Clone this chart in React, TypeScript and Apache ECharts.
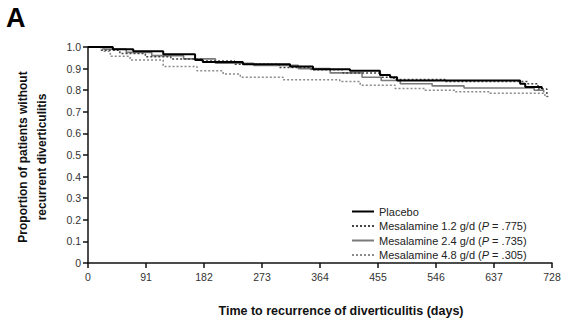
import React, { useEffect, useRef } from "react";
import * as echarts from "echarts";

const xTicks = [0, 91, 182, 273, 364, 455, 546, 637, 728];
const yTicks = [0, 0.1, 0.2, 0.3, 0.4, 0.5, 0.6, 0.7, 0.8, 0.9, 1.0];

const seriesNames = [
  "Placebo",
  "Mesalamine 1.2 g/d (P = .775)",
  "Mesalamine 2.4 g/d (P = .735)",
  "Mesalamine 4.8 g/d (P = .305)",
];

const placeboDays = [0, 39, 71, 118, 168, 180, 243, 317, 353, 411, 458, 474, 485, 520, 678, 686, 712];
const placeboVals = [1.0, 0.99, 0.98, 0.967, 0.94, 0.93, 0.92, 0.91, 0.897, 0.89, 0.87, 0.86, 0.845, 0.845, 0.83, 0.815, 0.805];

const mes12Days = [0, 20, 50, 90, 130, 180, 230, 300, 350, 400, 460, 480, 560, 690, 706, 720];
const mes12Vals = [1.0, 0.985, 0.97, 0.955, 0.945, 0.935, 0.92, 0.905, 0.895, 0.88, 0.86, 0.85, 0.84, 0.83, 0.805, 0.77];

const mes24Days = [0, 25, 60, 100, 150, 200, 260, 330, 380, 430, 460, 490, 540, 590, 700, 715];
const mes24Vals = [1.0, 0.99, 0.975, 0.96, 0.945, 0.925, 0.915, 0.9, 0.88, 0.86, 0.845, 0.83, 0.82, 0.81, 0.80, 0.79];

const mes48Days = [0, 23, 35, 66, 118, 171, 212, 239, 306, 395, 427, 482, 529, 576, 631, 717, 722];
const mes48Vals = [1.0, 0.98, 0.957, 0.94, 0.91, 0.89, 0.875, 0.86, 0.848, 0.84, 0.823, 0.808, 0.8, 0.793, 0.786, 0.771, 0.762];

const zip = (d: number[], v: number[]) => d.map((x, i) => [x, v[i]]);

export default function App() {
  const ref = useRef<HTMLDivElement>(null);
  useEffect(() => {
    if (!ref.current) return;
    const chart = echarts.init(ref.current, null, { renderer: "svg" });
    const fmtLegend = (name: string) => {
      const m = name.match(/^(.*)\(P = (.*)\)$/);
      if (!m) return name;
      return `${m[1]}({i|P} = ${m[2]})`;
    };
    const mk = (name: string, d: number[], v: number[], color: string, width: number, type: any, z: number) => ({
      name,
      type: "line",
      step: "end",
      data: zip(d, v),
      showSymbol: false,
      symbol: "none",
      z,
      lineStyle: { color, width, type },
      itemStyle: { color },
    });
    chart.setOption({
      animation: false,
      backgroundColor: "#fff",
      textStyle: { fontFamily: "Liberation Sans, Arial, sans-serif" },
      grid: { left: 88, right: 18, top: 47, bottom: 51, containLabel: false },
      graphic: [
        {
          type: "text",
          left: 6,
          top: 4,
          style: { text: "A", font: "bold 27px Liberation Sans, Arial, sans-serif", fill: "#000" },
        },
        {
          type: "text",
          x: 32,
          y: 157,
          rotation: Math.PI / 2,
          style: {
            text: "Proportion of patients without\nrecurrent diverticulitis",
            font: "bold 12px Liberation Sans, Arial, sans-serif",
            fill: "#111",
            align: "center",
            verticalAlign: "middle",
            lineHeight: 19,
          },
        },
      ],
      legend: {
        orient: "vertical",
        left: 346,
        top: 201,
        itemWidth: 22,
        itemHeight: 10,
        itemGap: 3.5,
        data: seriesNames,
        formatter: fmtLegend,
        itemStyle: { opacity: 0 },
        textStyle: {
          fontSize: 11,
          color: "#222",
          fontFamily: "Liberation Sans, Arial, sans-serif",
          rich: {
            i: { fontStyle: "italic", fontSize: 11, color: "#222", fontFamily: "Liberation Sans, Arial, sans-serif" },
          },
        },
      },
      xAxis: {
        type: "value",
        min: 0,
        max: 728,
        interval: 91,
        name: "Time to recurrence of diverticulitis (days)",
        nameLocation: "middle",
        nameGap: 41,
        nameTextStyle: { fontSize: 12.5, fontWeight: "bold", color: "#111", padding: [0, 0, 0, 42] },
        axisLine: { lineStyle: { color: "#111", width: 1.5 } },
        axisTick: { show: true, length: 5, lineStyle: { color: "#111", width: 1.5 } },
        axisLabel: {
          color: "#333",
          fontSize: 10.5,
          margin: 8,
          formatter: (v: number) => (xTicks.includes(v) ? String(v) : ""),
        },
        splitLine: { show: false },
      },
      yAxis: {
        type: "value",
        min: 0,
        max: 1,
        interval: 0.1,
        axisLine: { show: true, lineStyle: { color: "#111", width: 1.5 } },
        axisTick: { show: true, length: 5, lineStyle: { color: "#111", width: 1.5 } },
        axisLabel: {
          color: "#333",
          fontSize: 10.5,
          margin: 7,
          formatter: (v: number) => {
            const t = yTicks.find((y) => Math.abs(y - v) < 1e-6);
            if (t === undefined) return "";
            return t === 0 ? "0" : t.toFixed(1);
          },
        },
        splitLine: { show: false },
      },
      series: [
        mk(seriesNames[3], mes48Days, mes48Vals, "#8a8a8a", 1.5, [2, 2], 1),
        mk(seriesNames[2], mes24Days, mes24Vals, "#7a7a7a", 1.6, "solid", 2),
        mk(seriesNames[1], mes12Days, mes12Vals, "#444", 1.5, [2, 2], 3),
        mk(seriesNames[0], placeboDays, placeboVals, "#000", 2, "solid", 4),
      ],
    });
    return () => chart.dispose();
  }, []);
  return (
    <div
      ref={ref}
      style={{ position: "fixed", left: 0, top: 0, width: 570, height: 322 }}
    />
  );
}
